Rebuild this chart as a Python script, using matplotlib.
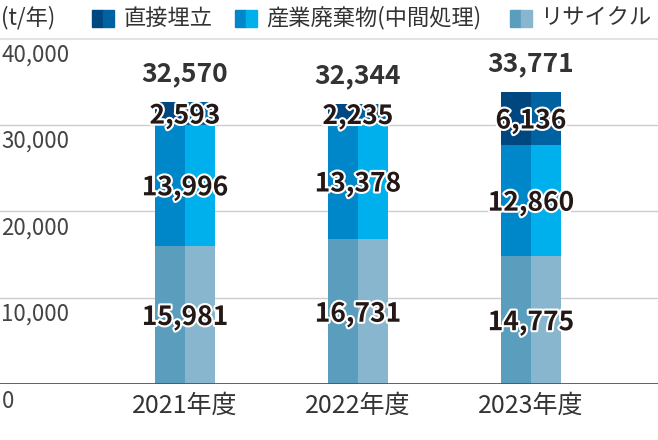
import matplotlib
matplotlib.use('Agg')
import matplotlib.pyplot as plt
import matplotlib.patches as patches
import matplotlib.patheffects as pe
import numpy as np

plt.rcParams['font.family'] = ['Noto Sans CJK JP', 'DejaVu Sans']

# data
years = ['2021年度', '2022年度', '2023年度']
recycle = [15981, 16731, 14775]
intermediate = [13996, 13378, 12860]
landfill = [2593, 2235, 6136]
totals = [32570, 32344, 33771]
series_names = ['直接埋立', '産業廃棄物(中間処理)', 'リサイクル']
y_ticks = [0, 10000, 20000, 30000, 40000]

# (left half, right half) colours
colors_dict = {'landfill': ('#00467f', '#0062a0'),
               'intermediate': ('#0087c9', '#00b0ec'),
               'recycle': ('#5b9dbd', '#88b6ce')}

W, H = 658, 440
fig = plt.figure(figsize=(W / 100, H / 100), dpi=100)
ax = fig.add_axes([0, 56 / H, 1, (384 - 38) / H])

x = np.arange(len(years))
half = 0.173
ax.set_xlim(-185 / 173, (W - 185) / 173)
ax.set_ylim(0, 40000)

# stacked bars, each split into a darker left half and lighter right half
stack = [('recycle', recycle), ('intermediate', intermediate), ('landfill', landfill)]
bottom = np.zeros(len(years))
for key, vals in stack:
    vals = np.array(vals)
    ax.bar(x - half / 2, vals, width=half, bottom=bottom, color=colors_dict[key][0], zorder=3)
    ax.bar(x + half / 2, vals, width=half, bottom=bottom, color=colors_dict[key][1], zorder=3)
    for i in range(len(years)):
        ax.text(x[i], bottom[i] + vals[i] / 2 - 300, f'{vals[i]:,}', ha='center', va='center',
                fontsize=19, fontweight='bold', color='#231815', zorder=5,
                path_effects=[pe.withStroke(linewidth=3, foreground='white')])
    bottom += vals

for i in range(len(years)):
    ax.text(x[i], totals[i] + 3300, f'{totals[i]:,}', ha='center', va='center',
            fontsize=19, fontweight='bold', color='#333333', zorder=5)

# gridlines and labels sitting under each line
for t in y_ticks:
    if t == 0:
        ax.axhline(t, color='#555555', lw=1.3, zorder=4)
    elif t == 40000:
        ax.axhline(t, color='#e3e3e3', lw=2.2, zorder=1)
    else:
        ax.axhline(t, color='#cccccc', lw=1, zorder=1)
    ax.annotate(f'{t:,}', xy=(0, t), xycoords=('axes fraction', 'data'),
                xytext=(1, -4), textcoords='offset points', ha='left', va='top',
                fontsize=16, color='#444444')

for i, name in enumerate(years):
    ax.annotate(name, xy=(x[i], 0), xycoords='data', xytext=(0, -6),
                textcoords='offset points', ha='center', va='top',
                fontsize=18, color='#333333')

ax.axis('off')

# legend along the top
fig.text(1 / W, 1 - 18 / H, '(t/年)', fontsize=16, color='#333333', va='center', ha='left')
legend_items = [(92, 124, 'landfill', series_names[0]),
                (235, 266, 'intermediate', series_names[1]),
                (510, 540, 'recycle', series_names[2])]
for sx, tx, key, label in legend_items:
    for k in range(2):
        fig.add_artist(patches.Rectangle(((sx + k * 11) / W, 1 - 27 / H), 11 / W, 17 / H,
                                         transform=fig.transFigure, color=colors_dict[key][k]))
    fig.text(tx / W, 1 - 18 / H, label, fontsize=16, color='#333333', va='center', ha='left')

fig.savefig('out.png', dpi=100, facecolor='white')
